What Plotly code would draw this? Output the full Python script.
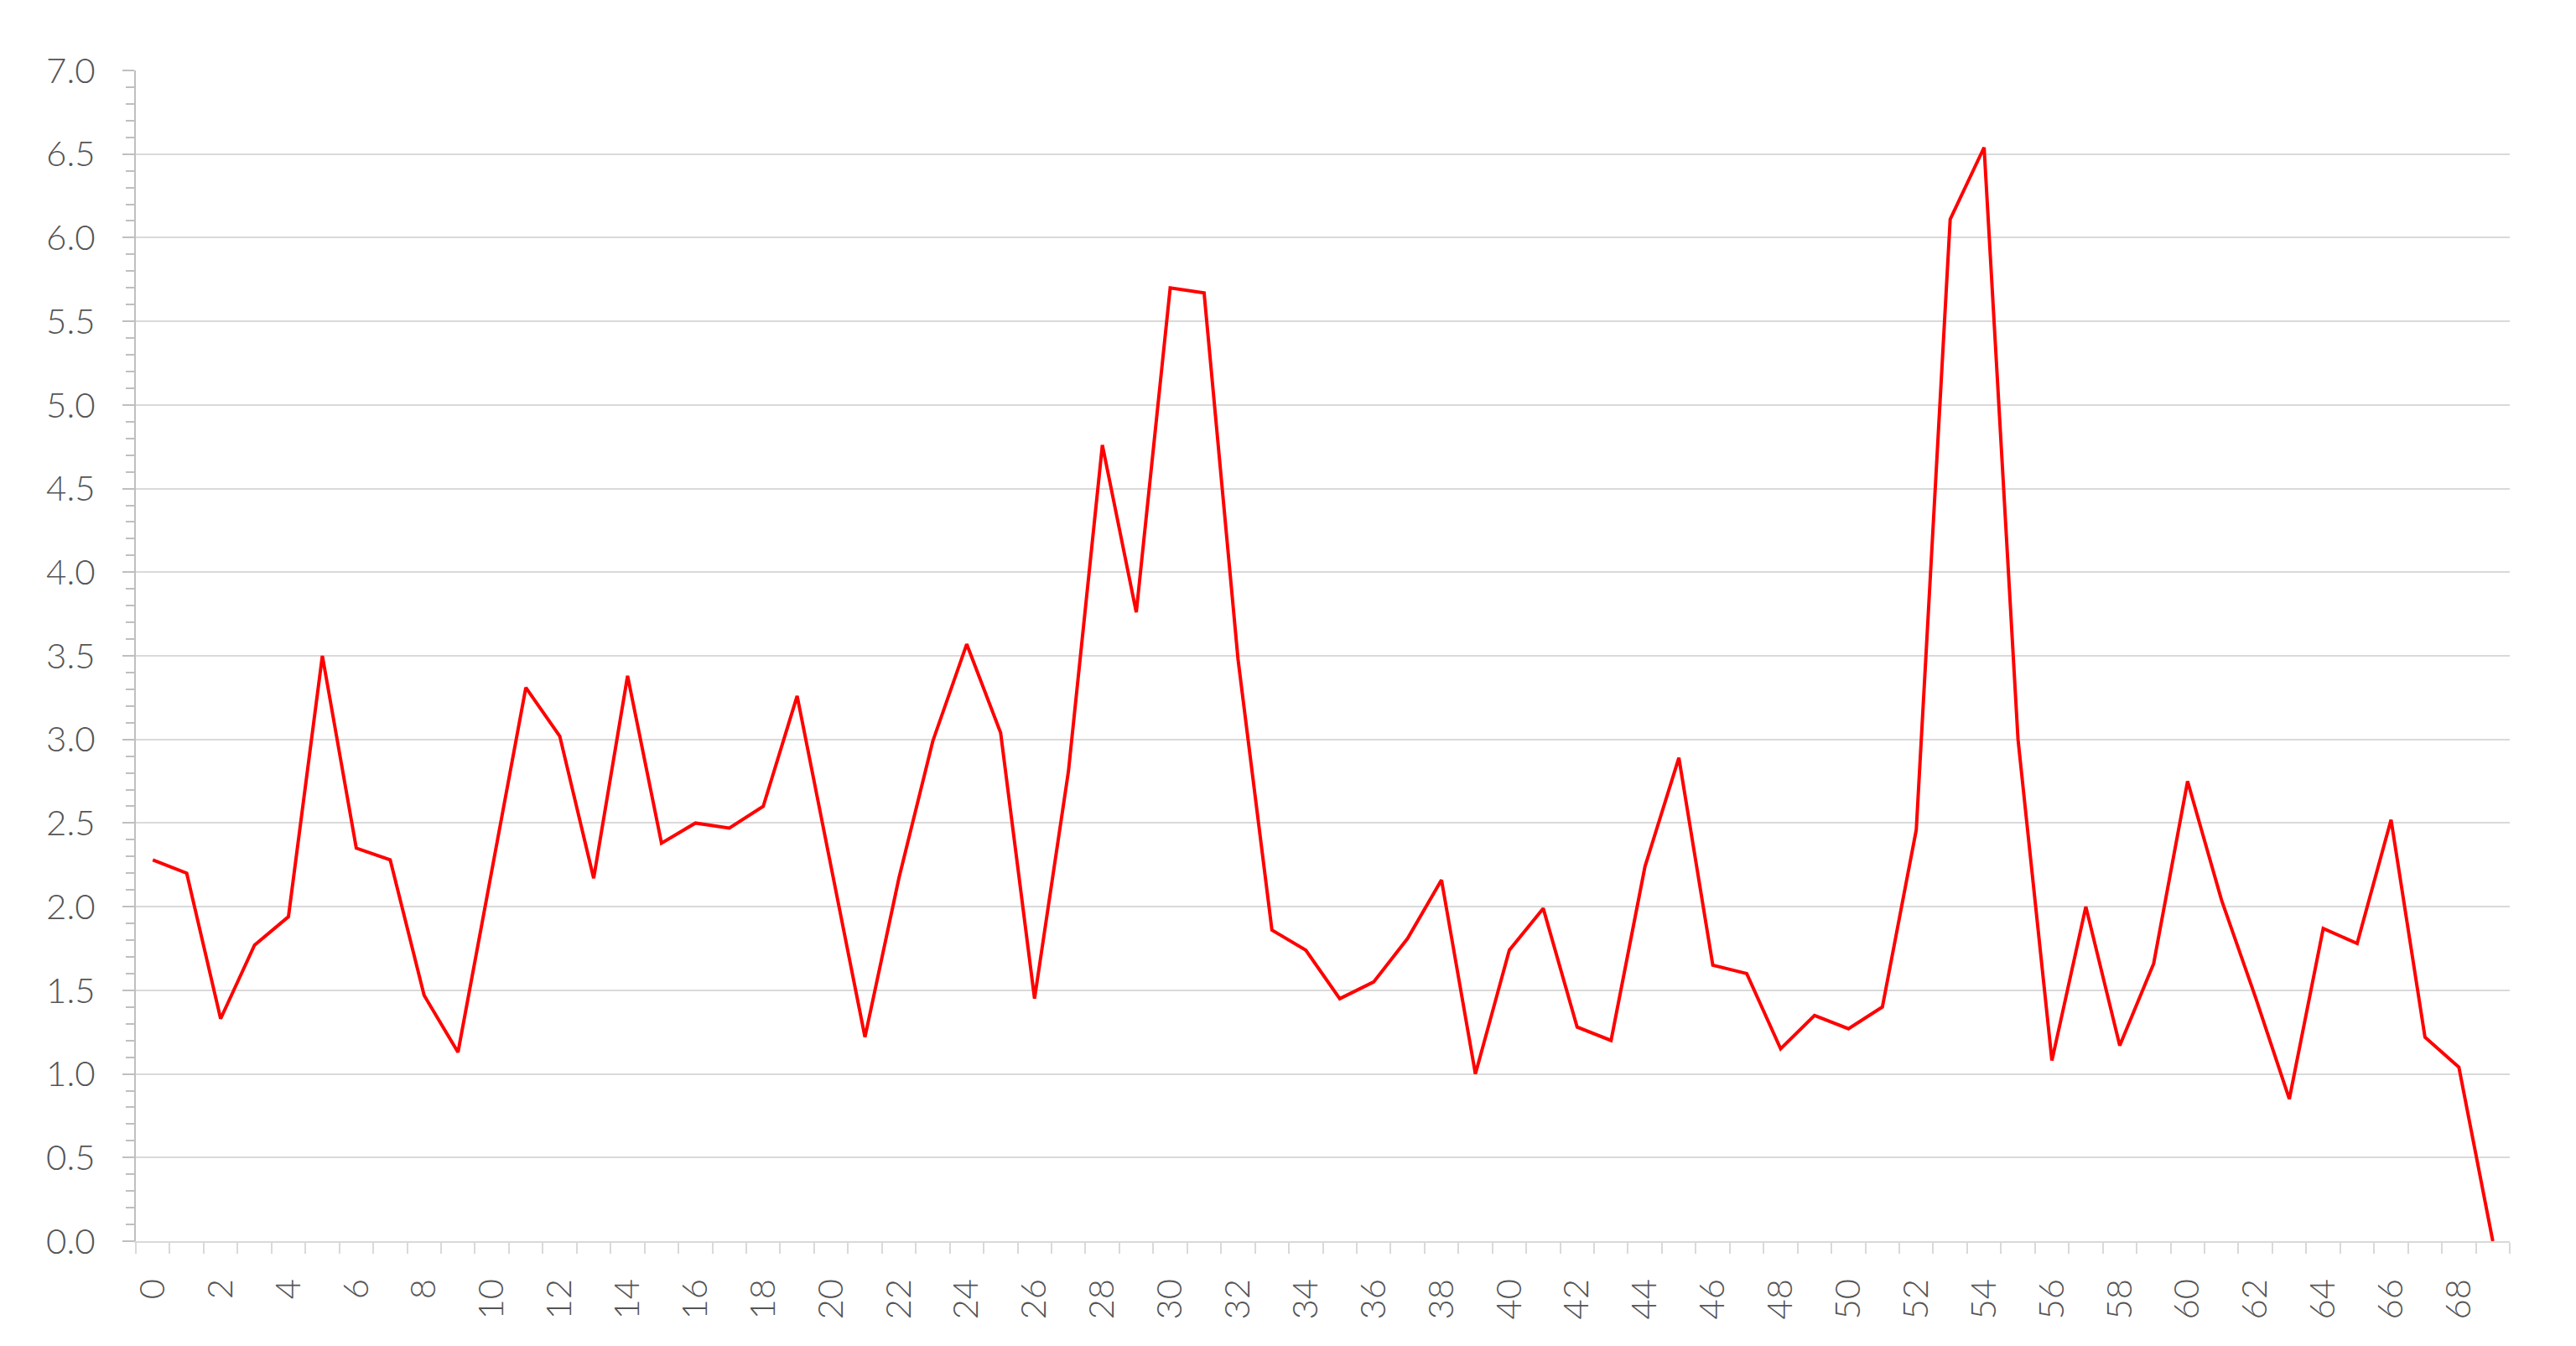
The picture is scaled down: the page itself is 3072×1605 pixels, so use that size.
import plotly.graph_objects as go

# valeurs (index 0..69)
x_vals = list(range(70))
y_vals = [
    2.28, 2.20, 1.33, 1.77, 1.94, 3.50, 2.35, 2.28, 1.47, 1.13,
    2.22, 3.31, 3.02, 2.17, 3.38, 2.38, 2.50, 2.47, 2.60, 3.26,
    2.24, 1.22, 2.17, 2.99, 3.57, 3.04, 1.45, 2.81, 4.76, 3.76,
    5.70, 5.67, 3.48, 1.86, 1.74, 1.45, 1.55, 1.81, 2.16, 1.00,
    1.74, 1.99, 1.28, 1.20, 2.24, 2.89, 1.65, 1.60, 1.15, 1.35,
    1.27, 1.40, 2.46, 6.11, 6.54, 3.00, 1.08, 2.00, 1.17, 1.66,
    2.75, 2.04, 1.46, 0.85, 1.87, 1.78, 2.52, 1.22, 1.04, 0.00,
]
x_ticks = list(range(0, 70, 2))

FONT = "Lato"
GRID = "#d9d9d9"
AXIS = "#bfbfbf"
TXT = "#555555"

fig = go.Figure()
fig.add_trace(go.Scatter(
    x=x_vals, y=y_vals, mode="lines",
    line=dict(color="#ff0000", width=4),
    showlegend=False,
))

# la page html ajoute 8px de marge autour du graphique
fig.update_layout(
    width=3056, height=1589,
    paper_bgcolor="white", plot_bgcolor="white",
    margin=dict(l=154, r=71, t=76, b=117),
    font=dict(family=FONT, size=42, color=TXT, weight=300),
)

fig.update_xaxes(
    range=[-0.5, 69.5],
    tickmode="array", tickvals=x_ticks, ticktext=[str(v) for v in x_ticks],
    tickangle=-90, ticks="", ticklabelstandoff=26,
    showgrid=False, zeroline=False,
    showline=True, linecolor=GRID, linewidth=2,
    minor=dict(ticks="outside", tick0=-0.5, dtick=1, ticklen=13,
               tickcolor=GRID, tickwidth=2, showgrid=False),
)
fig.update_yaxes(
    range=[0, 7], tick0=0, dtick=0.5, tickformat=".1f",
    ticks="outside", ticklen=14, tickcolor=AXIS, tickwidth=2,
    ticklabelstandoff=24,
    showgrid=True, gridcolor=GRID, gridwidth=2, zeroline=False,
    showline=True, linecolor=AXIS, linewidth=2,
    minor=dict(ticks="outside", tick0=0, dtick=0.1, ticklen=10,
               tickcolor=AXIS, tickwidth=2, showgrid=False),
)

fig.write_html("out.html")
